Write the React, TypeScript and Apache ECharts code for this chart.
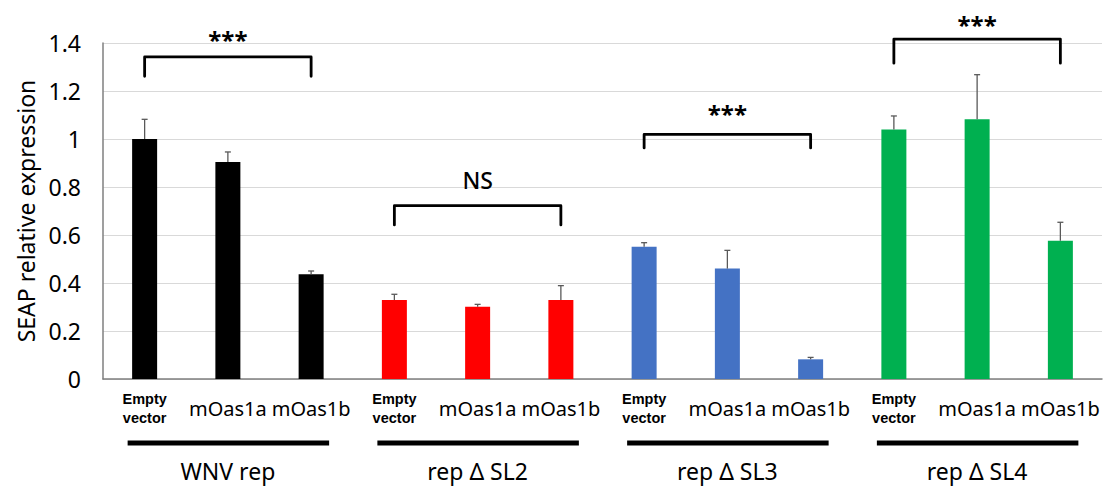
import React, { useEffect, useRef } from "react";
import * as echarts from "echarts";

const categories = [
  "Empty vector", "mOas1a", "mOas1b",
  "Empty vector", "mOas1a", "mOas1b",
  "Empty vector", "mOas1a", "mOas1b",
  "Empty vector", "mOas1a", "mOas1b",
];
const groupNames = ["WNV rep", "rep Δ SL2", "rep Δ SL3", "rep Δ SL4"];
const groupFirst = [0, 3, 6, 9];
const groupLast = [2, 5, 8, 11];
const groupColors = ["#000000", "#FF0000", "#4472C4", "#00B050"];
const values = [1.0, 0.904, 0.436, 0.329, 0.301, 0.329, 0.551, 0.46, 0.082, 1.04, 1.082, 0.576];
const errors = [0.082, 0.042, 0.014, 0.024, 0.01, 0.06, 0.017, 0.076, 0.008, 0.056, 0.186, 0.077];
const yMin = 0;
const yMax = 1.4;
const yInterval = 0.2;
const bracketStart = [0, 3, 6, 9];
const bracketEnd = [2, 5, 8, 11];
const bracketTop = [1.342, 0.722, 1.019, 1.416];
const bracketLeg = [1.261, 0.642, 0.963, 1.316];
const bracketLabelY = [1.443, 0.829, 1.134, 1.507];
const bracketLabels = ["***", "NS", "***", "***"];

const FONT = "Noto Sans";

function groupOf(i: number) {
  for (let k = 0; k < groupFirst.length; k++) {
    if (i >= groupFirst[k] && i <= groupLast[k]) return k;
  }
  return 0;
}

export default function App() {
  const ref = useRef<HTMLDivElement>(null);
  useEffect(() => {
    if (!ref.current) return;
    const chart = echarts.init(ref.current, undefined, { renderer: "svg" });
    const option: any = {
      animation: false,
      grid: { left: 103, right: 8, top: 43, bottom: 113, containLabel: false },
      xAxis: {
        type: "category",
        data: categories,
        axisTick: { show: false },
        axisLine: { lineStyle: { color: "#7f7f7f", width: 1.5 } },
        axisLabel: {
          interval: 0,
          margin: 29,
          verticalAlign: "middle",
          formatter: (val: string) =>
            val === "Empty vector" ? "{e|Empty}\n{e|vector}" : `{m|${val}}`,
          rich: {
            e: { fontFamily: "Liberation Sans", fontWeight: "bold", fontSize: 14.5, lineHeight: 19, color: "#000" },
            m: { fontFamily: FONT, fontSize: 20, color: "#000" },
          },
        },
      },
      yAxis: {
        type: "value",
        min: yMin,
        max: yMax,
        interval: yInterval,
        name: "SEAP relative expression",
        nameLocation: "middle",
        nameGap: 66,
        nameTextStyle: { fontFamily: FONT, fontSize: 23, color: "#000" },
        axisLine: { show: true, lineStyle: { color: "#7f7f7f", width: 1.5 } },
        axisTick: { show: false },
        axisLabel: { fontFamily: FONT, fontSize: 23, color: "#000", margin: 22 },
        splitLine: { lineStyle: { color: "#d9d9d9", width: 1 } },
      },
      series: [
        {
          type: "bar",
          barWidth: 25,
          data: values.map((v, i) => ({ value: v, itemStyle: { color: groupColors[groupOf(i)] } })),
          z: 2,
        },
        {
          type: "custom",
          z: 3,
          encode: { x: 0, y: 1 },
          data: values.map((v, i) => [i, v, errors[i]]),
          renderItem: (params: any, api: any) => {
            const i = api.value(0);
            const v = api.value(1);
            const e = api.value(2);
            const b = api.coord([i, v]);
            const t = api.coord([i, v + e]);
            const st = { stroke: "#595959", lineWidth: 1.3 };
            return {
              type: "group",
              children: [
                { type: "line", shape: { x1: b[0], y1: b[1], x2: t[0], y2: t[1] }, style: st },
                { type: "line", shape: { x1: t[0] - 3, y1: t[1], x2: t[0] + 3, y2: t[1] }, style: st },
              ],
            };
          },
        },
        {
          type: "custom",
          z: 4,
          clip: false,
          encode: { x: [0, 1], y: [2, 3] },
          data: bracketStart.map((s, k) => [s, bracketEnd[k], bracketTop[k], bracketLeg[k], bracketLabelY[k]]),
          renderItem: (params: any, api: any) => {
            const s = api.value(0);
            const e = api.value(1);
            const top = api.value(2);
            const leg = api.value(3);
            const ly = api.value(4);
            const p1 = api.coord([s, leg]);
            const p2 = api.coord([s, top]);
            const p3 = api.coord([e, top]);
            const p4 = api.coord([e, leg]);
            const lab = bracketLabels[params.dataIndex];
            const lp = api.coord([(s + e) / 2, ly]);
            const isStar = lab.indexOf("*") >= 0;
            return {
              type: "group",
              children: [
                {
                  type: "polyline",
                  shape: { points: [p1, p2, p3, p4] },
                  style: { stroke: "#000", lineWidth: 2.8, fill: "none", lineJoin: "round", lineCap: "round" },
                },
                {
                  type: "text",
                  x: lp[0],
                  y: lp[1] + (isStar ? 7 : 0),
                  style: {
                    text: lab,
                    fontFamily: FONT,
                    fontSize: isStar ? 24 : 23,
                    fontWeight: isStar ? "bold" : 500,
                    fill: "#000",
                    align: "center",
                    verticalAlign: "middle",
                  },
                },
              ],
            };
          },
        },
        {
          type: "custom",
          z: 4,
          clip: false,
          encode: { x: [0, 1], y: 2 },
          data: groupFirst.map((f, k) => [f, groupLast[k], 0]),
          renderItem: (params: any, api: any) => {
            const a = api.coord([api.value(0), 0]);
            const b = api.coord([api.value(1), 0]);
            return {
              type: "group",
              children: [
                {
                  type: "line",
                  shape: { x1: a[0] - 17, y1: a[1] + 64, x2: b[0] + 18, y2: a[1] + 64 },
                  style: { stroke: "#000", lineWidth: 5 },
                },
                {
                  type: "text",
                  x: (a[0] + b[0]) / 2,
                  y: a[1] + 92,
                  style: {
                    text: groupNames[params.dataIndex],
                    fontFamily: FONT,
                    fontSize: 23,
                    fill: "#000",
                    align: "center",
                    verticalAlign: "middle",
                  },
                },
              ],
            };
          },
        },
      ],
    };
    chart.setOption(option);
    return () => chart.dispose();
  }, []);
  return (
    <div
      ref={ref}
      style={{ position: "fixed", left: 0, top: 0, width: 1110, height: 492, background: "#fff" }}
    />
  );
}
